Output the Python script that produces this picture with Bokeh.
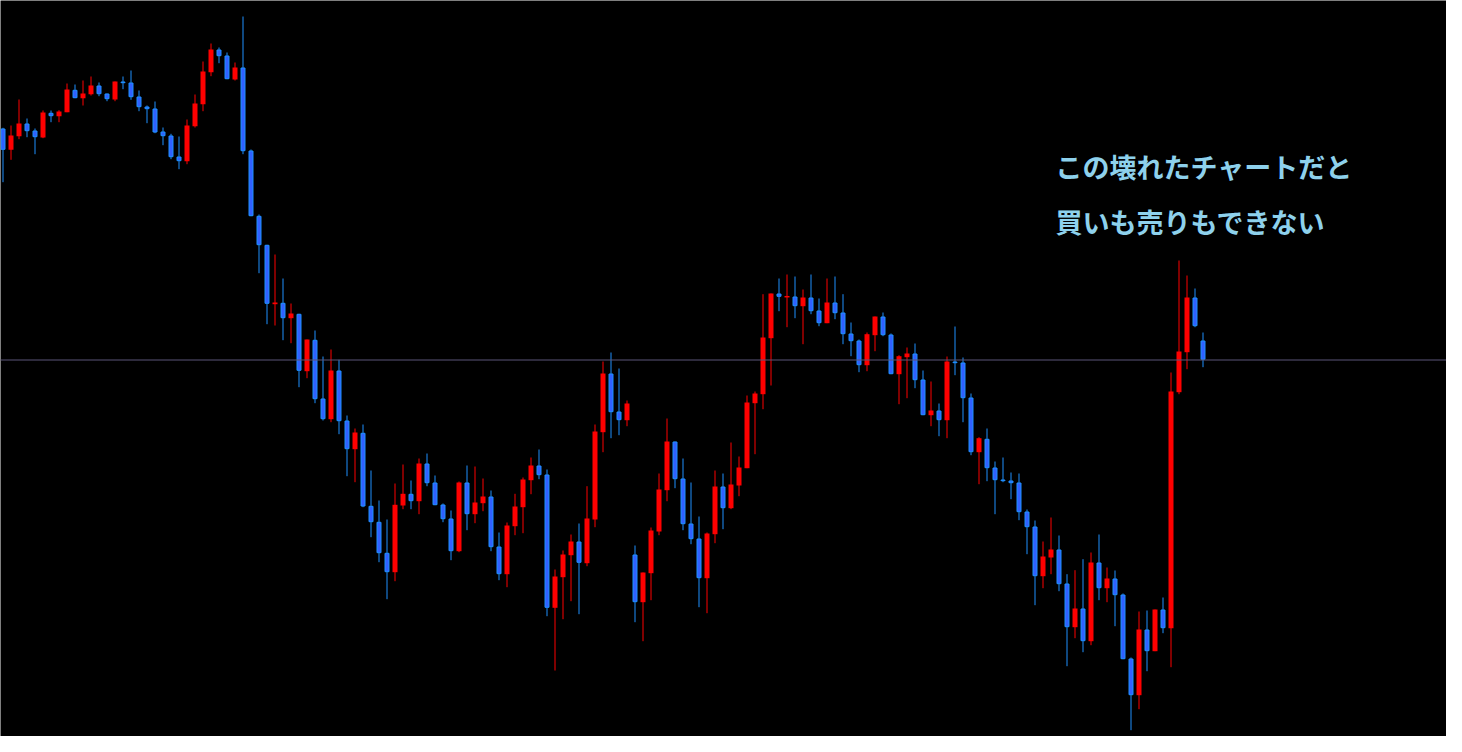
from bokeh.plotting import figure
from bokeh.models import Range1d, Span, Label, ColumnDataSource
from bokeh.embed import file_html
from bokeh.resources import INLINE

# OHLC prices (arbitrary price units) for 151 bars
opens = [624, 602.7, 616.3, 629, 622, 615, 639.7, 636.3, 640.3, 662.7,
         654.3, 658.3, 667, 659, 653, 671, 670, 656, 646, 644,
         621, 617, 596, 591.3, 626.3, 648.3, 680.3, 703, 697, 673,
         685, 602, 536.7, 507.7, 448.3, 449.7, 434.3, 438.7, 381.3, 412.7,
         354, 333.3, 382, 332, 303.3, 319.7, 246.7, 230.7, 199.7, 180.3,
         247, 258.7, 251.3, 289, 270, 248, 234, 201.3, 270, 238.3,
         249.3, 256, 206, 178.3, 226.3, 245.3, 272.3, 287, 278, 144.7,
         175.3, 197.3, 211, 189.3, 233, 320.3, 379, 341, 332.3, 198,
         150.3, 179.3, 221, 262.3, 311, 274, 229, 214, 174.3, 218.3,
         266, 244.3, 267, 284.3, 349.3, 358.3, 414.3, 459, 455.3, 456,
         446.3, 455, 442, 429.3, 450, 440, 419, 412, 387.3, 417.3,
         436, 418, 378.3, 395.3, 399, 373, 337.3, 342, 332.3, 391,
         390, 355, 300.3, 313.7, 285, 273, 272, 270, 241, 226,
         176.3, 195, 203, 169, 125.3, 144, 111.3, 190, 164.3, 174,
         158, 94, 57.3, 123, 101.3, 143, 124.3, 360.3, 400.3, 455,
         412]
highs = [624.7, 627, 653, 634, 624, 642, 642, 642.3, 669, 668,
         672, 676, 670, 659, 671, 676, 682, 662, 647, 651,
         625, 618.7, 616, 633, 658, 691, 709, 705, 700, 690,
         736, 603, 538, 507.7, 498, 474, 449, 438.7, 413, 422,
         396, 403, 392.7, 337, 324, 328, 282, 252, 233, 269,
         288, 272, 294, 299, 277, 249, 242, 271, 287, 286,
         274, 262, 220, 230, 258.7, 275, 295, 303, 283, 183,
         202, 218, 229, 266.3, 328, 391, 400, 384, 352, 207,
         180, 225, 279, 334, 311, 294, 270, 236, 220, 282,
         279, 310, 296, 357, 361, 458.3, 459, 474, 478, 476,
         463, 478, 454, 474, 476, 458.3, 430, 413, 420, 436,
         440, 419, 397.3, 405, 409, 382, 371, 349, 396, 426,
         395, 359, 315.3, 324, 291, 295, 280, 279, 243, 232,
         211, 235, 217, 178.3, 182.3, 193.3, 200, 218, 185, 182,
         159, 95, 141, 142, 143, 155, 380, 492, 477, 464,
         420]
lows = [570.3, 592.7, 613.3, 615.3, 598.3, 614.3, 630.3, 630.3, 640.3, 654.3,
        647, 657, 656.3, 651.3, 651.3, 663.3, 652.7, 641.3, 629.3, 619.3,
        607.3, 593.3, 583.3, 588.3, 625, 641.3, 676.3, 689.3, 673.3, 672,
        598.3, 536.3, 479.3, 428.3, 427, 412.3, 409.3, 365.3, 374.3, 349.3,
        332, 330.3, 318.3, 276.3, 270.3, 245.3, 215.3, 190.3, 153.3, 171.3,
        243.3, 243.3, 238.3, 266.3, 247.3, 230.3, 192.3, 200.3, 222.3, 229.3,
        241.3, 201.3, 172.3, 165.3, 217.3, 219.3, 258.3, 273.3, 136.3, 82,
        133.3, 151.3, 138.3, 186.3, 225.3, 300.3, 314.3, 317.3, 326.3, 130.3,
        111.3, 152.3, 217.3, 251.3, 264.3, 222.3, 208.3, 145.3, 139.3, 209.3,
        223.3, 243.3, 256.3, 284.3, 298.3, 343.3, 367, 441.3, 425.3, 434.3,
        408.3, 438.3, 426.3, 429.3, 433.3, 408.3, 396.3, 380.3, 381.3, 401.3,
        416.3, 378.3, 348.3, 354.3, 364.3, 337.3, 326.3, 316.3, 314.3, 377.3,
        330.3, 297.3, 268.3, 271.3, 238.3, 270.3, 253.3, 232.3, 198.3, 147.3,
        164.3, 178.3, 161.3, 86.3, 114.3, 100.3, 107.3, 152.3, 150.3, 126.3,
        93.3, 22.3, 43.3, 81.3, 101.3, 119.3, 85.3, 358.3, 383.3, 425.3,
        385.3]
closes = [602.7, 617, 629, 621.3, 615.3, 640, 636.3, 641, 663, 654.3,
          659, 667, 658.3, 653.3, 671, 669.3, 655.3, 645.3, 643.3, 620,
          616.3, 595.3, 591.3, 627, 649, 681, 703, 696.3, 673.3, 685,
          601.3, 536.3, 507.3, 448.7, 450, 434.3, 439, 381.7, 413, 353.3,
          333.3, 382, 331.3, 303.3, 320, 246, 230.3, 199.3, 180.3, 247.7,
          258.7, 251.3, 289, 269.3, 247.3, 233.3, 201.3, 270, 238.3, 250,
          256, 205.3, 178.3, 227, 246, 273, 287, 277.3, 144.7, 176,
          198, 211, 189.7, 234, 321, 379, 340.3, 332.3, 349, 150.3,
          180, 222, 263, 311, 273.3, 228.3, 213.3, 174.3, 219, 266,
          244.3, 268, 285, 350, 359, 415, 459, 455.7, 456.3, 446.3,
          455, 441.3, 429.3, 450, 439.3, 418.3, 411.3, 387.3, 418.3, 436,
          417.3, 378.3, 396.3, 399, 372.3, 337.3, 342, 332.3, 391, 389.3,
          354.3, 300.3, 314.3, 284.3, 272.3, 271.3, 269.3, 240.3, 225.3, 176.3,
          196, 203, 168.3, 125.3, 144, 111.3, 190, 164.3, 174, 157.3,
          93.3, 57.3, 123, 101.3, 143, 124.3, 361, 401, 455, 426.3,
          392.7]
last_price = 392.5
note_lines = ["この壊れたチャートだと", "買いも売りもできない"]

BULL = "#FF0000"
BEAR_FILL = "#3160FF"
BEAR_LINE = "#1E90FF"

idx = list(range(len(opens)))
up = [c >= o for o, c in zip(opens, closes)]


def sub(flag):
    xs, top, bot, hi, lo = [], [], [], [], []
    for i in idx:
        if up[i] != flag:
            continue
        xs.append(i)
        t = max(opens[i], closes[i])
        b = min(opens[i], closes[i])
        if t - b < 1.5:
            m = (t + b) / 2
            t, b = m + 0.75, m - 0.75
        top.append(t)
        bot.append(b)
        hi.append(highs[i])
        lo.append(lows[i])
    return dict(x=xs, top=top, bottom=bot, high=hi, low=lo)


bull = sub(True)
bear = sub(False)
# shrink bear bodies half a pixel so the 1px outline sits inside
bear_body = dict(x=bear["x"], top=[t - 0.5 for t in bear["top"]],
                 bottom=[b + 0.5 for b in bear["bottom"]])

W, H = 1446, 736
x0 = -2.5 / 8.0
p = figure(width=W, height=H, output_backend="svg", toolbar_location=None,
           x_range=Range1d(x0, x0 + W / 8.0), y_range=Range1d(752 - H, 752),
           background_fill_color="black", border_fill_color="black",
           min_border=0, outline_line_color=None)
p.axis.visible = False
p.grid.visible = False

p.add_layout(Span(location=last_price, dimension="width",
                  line_color="#5A5478", line_width=1))

sb = ColumnDataSource(bull)
sr = ColumnDataSource(bear)
p.segment(x0="x", x1="x", y0="low", y1="high", source=sb,
          line_color=BULL, line_width=1)
p.segment(x0="x", x1="x", y0="low", y1="high", source=sr,
          line_color=BEAR_LINE, line_width=1)
p.vbar(x="x", top="top", bottom="bottom", width=0.625, source=sb,
       fill_color=BULL, line_color=None)
p.vbar(x="x", top="top", bottom="bottom", width=0.5,
       source=ColumnDataSource(bear_body),
       fill_color=BEAR_FILL, line_color=BEAR_LINE, line_width=1)

for txt, yy in zip(note_lines, [570, 515]):
    p.add_layout(Label(x=1055, y=yy, x_units="screen", y_units="screen",
                       text=txt, text_font="Noto Sans CJK JP",
                       text_font_size="27px", text_font_style="bold",
                       text_color="#8ED1EC", text_baseline="middle"))

open("out.html", "w").write(file_html(p, INLINE))
